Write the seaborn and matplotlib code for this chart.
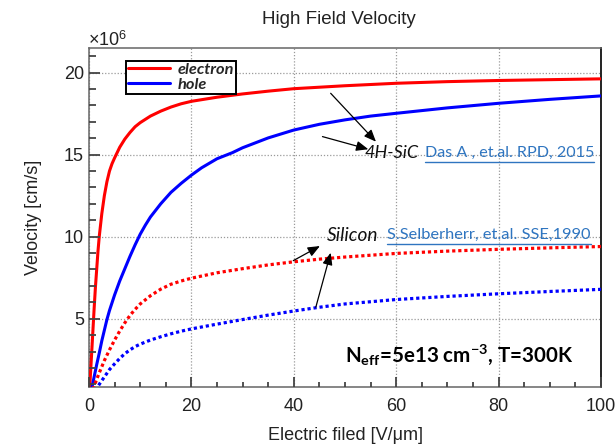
import matplotlib
matplotlib.use("Agg")
import matplotlib.pyplot as plt
from matplotlib.lines import Line2D
import pandas as pd
import seaborn as sns

# Electric field [V/um] and drift velocity [x1e6 cm/s]
sic_e_field = [0, 0.15, 0.3, 0.5, 0.75, 1, 1.25, 1.5, 1.75, 2, 2.5, 3, 3.5, 4, 4.5, 5, 6, 7, 8, 9, 10,
               12, 14, 16, 18, 20, 25, 30, 35, 40, 50, 60, 70, 80, 90, 100]
sic_e_vel = [0, 0.85, 1.7, 2.8, 4.2, 5.6, 6.9, 8.0, 9.1, 10.0, 11.4, 12.5, 13.35, 14.0, 14.45, 14.8, 15.45,
             15.95, 16.35, 16.7, 16.95, 17.35, 17.65, 17.9, 18.1, 18.25, 18.5, 18.7, 18.87, 19.02,
             19.2, 19.35, 19.45, 19.52, 19.57, 19.62]

sic_h_field = [0, 0.6, 1, 1.5, 2, 2.5, 3, 3.5, 4, 5, 6, 7, 8, 9, 10, 11, 12, 14, 16, 18, 20, 22, 25, 28,
               30, 35, 40, 45, 50, 55, 60, 70, 80, 90, 100]
sic_h_vel = [0, 0.85, 1.45, 2.2, 2.9, 3.65, 4.3, 4.95, 5.5, 6.45, 7.3, 8.05, 8.8, 9.5, 10.15, 10.7, 11.2,
             12.0, 12.7, 13.25, 13.75, 14.2, 14.75, 15.12, 15.42, 16.02, 16.5, 16.85, 17.12, 17.35,
             17.52, 17.85, 18.13, 18.37, 18.58]

si_e_field = [0, 1, 2, 3, 4, 5, 6, 7, 8, 9, 10, 12, 14, 16, 18, 20, 25, 30, 35, 40, 45, 50, 60, 70, 80, 90, 100]
si_e_vel = [0, 0.9, 1.7, 2.45, 3.1, 3.7, 4.25, 4.75, 5.2, 5.57, 5.9, 6.4, 6.8, 7.1, 7.3, 7.47, 7.8, 8.05,
            8.28, 8.47, 8.63, 8.76, 8.98, 9.12, 9.23, 9.32, 9.4]

si_h_field = [0, 1, 2, 3, 4, 5, 6, 7, 8, 9, 10, 12, 14, 16, 18, 20, 25, 30, 35, 40, 45, 50, 60, 70, 80, 90, 100]
si_h_vel = [0, 0.5, 1.0, 1.45, 1.9, 2.25, 2.58, 2.87, 3.1, 3.3, 3.45, 3.7, 3.9, 4.08, 4.24, 4.38, 4.67,
            4.95, 5.22, 5.47, 5.7, 5.9, 6.17, 6.36, 6.52, 6.66, 6.79]

legend_labels = ["electron", "hole"]
x_ticks = [0, 20, 40, 60, 80, 100]
y_ticks = [5, 10, 15, 20]
x_minor = [t for t in range(0, 101, 5) if t not in x_ticks]
y_minor = [t for t in range(1, 22) if t not in y_ticks]

sns.set_style("white")
plt.rcParams["font.family"] = ["Liberation Sans", "DejaVu Sans"]
plt.rcParams["mathtext.fontset"] = "custom"
plt.rcParams["mathtext.rm"] = "Lato"
plt.rcParams["mathtext.bf"] = "Lato:bold"
plt.rcParams["mathtext.it"] = "Lato:italic"
plt.rcParams["mathtext.sf"] = "Liberation Sans"

W, H = 616, 445
AX_L, AX_R, AX_T, AX_B = 89, 601, 48, 387.3
fig = plt.figure(figsize=(W / 100, H / 100), dpi=100)
ax = fig.add_axes([AX_L / W, 1 - AX_B / H, (AX_R - AX_L) / W, (AX_B - AX_T) / H])
ax_w, ax_h = AX_R - AX_L, AX_B - AX_T

RED, BLUE = "#ff0000", "#0000ff"
dot = (0, (1.0, 0.9))
curves = [
    (sic_e_field, sic_e_vel, RED, "-", 2.2),
    (sic_h_field, sic_h_vel, BLUE, "-", 2.2),
    (si_e_field, si_e_vel, RED, dot, 2.3),
    (si_h_field, si_h_vel, BLUE, dot, 2.3),
]
for fld, vel, col, ls, lw in curves:
    df = pd.DataFrame({"E": fld, "v": vel})
    sns.lineplot(data=df, x="E", y="v", ax=ax, color=col, linestyle=ls,
                 linewidth=lw, estimator=None, sort=False, zorder=3)

ax.set_xlim(0, 100)
ax.set_ylim(0.82, 21.5)
ax.set_xticks(x_ticks)
ax.set_yticks(y_ticks)
ax.set_xticklabels([str(t) for t in x_ticks])
ax.set_yticklabels([str(t) for t in y_ticks])
ax.tick_params(axis="both", which="both", labelsize=13, direction="in", length=0,
               labelcolor="#222222")
ax.tick_params(axis="x", pad=8)
ax.tick_params(axis="y", pad=3.6)

ax.grid(True, which="major", color="#9a9a9a", linestyle=(0, (1, 1.5)), linewidth=0.9)
for side in ["left", "bottom", "top"]:
    ax.spines[side].set_color("#666666")
    ax.spines[side].set_linewidth(1.1)
ax.spines["right"].set_color("#111111")
ax.spines["right"].set_linewidth(1.3)

# inward tick marks on the bottom and left frame edges
TICK_COL = "#444444"
xtr = ax.get_xaxis_transform()
ytr = ax.get_yaxis_transform()
for pos, length in [(t, 10) for t in x_ticks] + [(t, 5.5) for t in x_minor]:
    ax.add_artist(Line2D([pos, pos], [0, length / ax_h], transform=xtr, color=TICK_COL,
                         lw=1.3, solid_capstyle="butt", clip_on=False, zorder=10))
for pos, length in [(t, 11) for t in y_ticks] + [(t, 6.5) for t in y_minor]:
    ax.add_artist(Line2D([0, length / ax_w], [pos, pos], transform=ytr, color=TICK_COL,
                         lw=1.3, solid_capstyle="butt", clip_on=False, zorder=10))

ax.set_xlabel("Electric filed [V/\u03bcm]", fontsize=13, color="#222222", labelpad=8)
ax.set_ylabel("Velocity [cm/s]", fontsize=13, color="#222222", labelpad=16)

fig.text(339 / W, 1 - 19 / H, "High Field Velocity", ha="center", va="center",
         fontsize=13.5, color="#222222")
fig.text(88 / W, 1 - 46 / H, "\u00d710" + r"$^{\mathsf{6}}$", ha="left", va="baseline",
         fontsize=13, color="#222222")

# legend for the 4H-SiC carriers
handles = [ax.lines[0], ax.lines[1]]
leg = ax.legend(handles, legend_labels, loc="upper left",
                bbox_to_anchor=(125.7 / W, 1 - 60.7 / H), bbox_transform=fig.transFigure,
                frameon=True, fancybox=False, edgecolor="black", framealpha=1,
                borderpad=0.12, borderaxespad=0, handlelength=2.6, handletextpad=0.45,
                labelspacing=0.0,
                prop=dict(family="Lato", weight="bold", style="italic", size=11.8))
leg.get_frame().set_linewidth(1.4)
leg.set_zorder(12)

# annotation arrows
arrow_kw = dict(arrowstyle="-|>,head_length=0.6,head_width=0.25", lw=0.9,
                color="black", shrinkA=0, shrinkB=0, mutation_scale=12)
ax.annotate("", xy=(56.05, 15.79), xytext=(47.2, 18.74), arrowprops=arrow_kw, zorder=5)
ax.annotate("", xy=(54.55, 15.33), xytext=(45.6, 16.1), arrowprops=arrow_kw, zorder=5)
ax.annotate("", xy=(45.1, 9.43), xytext=(39.9, 8.54), arrowprops=arrow_kw, zorder=5)
ax.annotate("", xy=(47.2, 9.02), xytext=(44.3, 5.70), arrowprops=arrow_kw, zorder=5)

LINK = "#2f75c0"
ax.text(53.9, 15.09, "4H-SiC", fontfamily="Lato", fontstyle="italic", fontsize=13,
        va="center", ha="left", color="#111111", zorder=6)
ref1 = ax.text(65.6, 15.09, "Das A , et.al. RPD, 2015", fontfamily="Lato", fontsize=11.6,
               va="center", ha="left", color=LINK, zorder=6)
ax.text(46.4, 10.1, "Silicon", fontfamily="Lato", fontstyle="italic", fontsize=13.8,
        va="center", ha="left", color="#111111", zorder=6)
ref2 = ax.text(58.3, 10.1, "S.Selberherr, et.al. SSE,1990", fontfamily="Lato", fontsize=11.8,
               va="center", ha="left", color=LINK, zorder=6)
ax.text(50.0, 2.79, r"N$_{\mathbf{eff}}$=5e13 cm$^{\mathbf{-3}}$, T=300K",
        fontfamily="Lato", fontweight="bold", fontsize=14.8, va="center", ha="left",
        color="black", zorder=6)

# underline the reference texts
fig.canvas.draw()
renderer = fig.canvas.get_renderer()
for t in (ref1, ref2):
    bb = t.get_window_extent(renderer)
    yc = (bb.y0 + bb.y1) / 2 - 8.5
    fig.add_artist(Line2D([bb.x0 / W, bb.x1 / W], [yc / H, yc / H],
                          transform=fig.transFigure, color=LINK, lw=1.0))

fig.savefig("out.png", dpi=100)
